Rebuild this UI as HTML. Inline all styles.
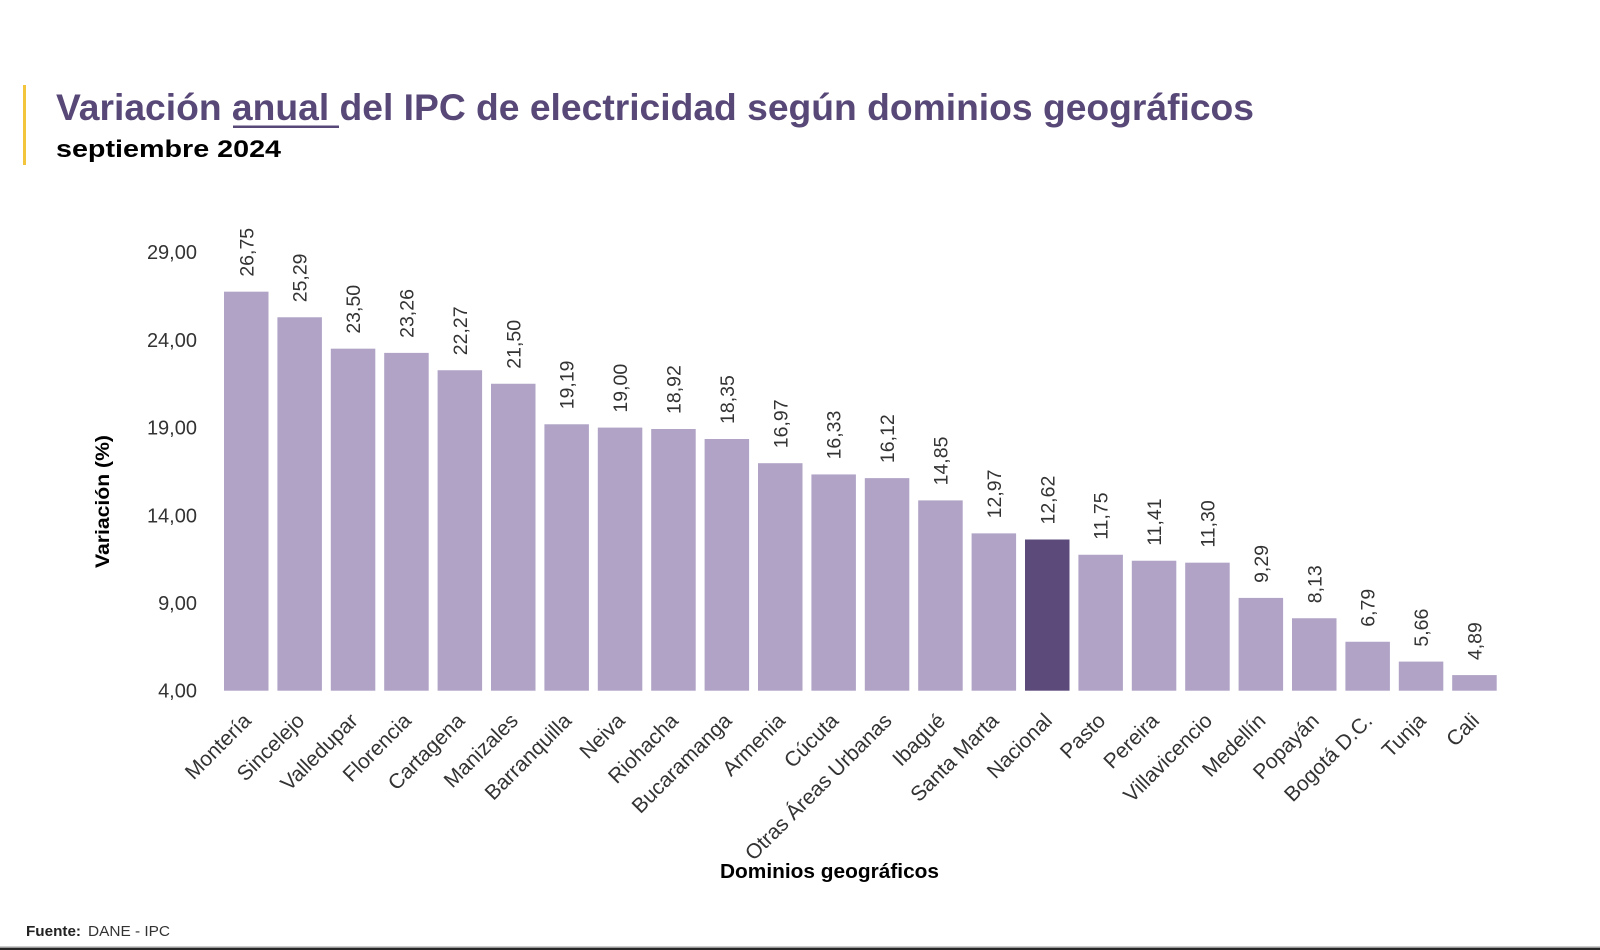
<!DOCTYPE html>
<html>
<head>
<meta charset="utf-8">
<style>
  html,body{margin:0;padding:0;background:#fff;}
  svg{display:block;}
  text{font-family:"Liberation Sans", Arial, sans-serif;}
</style>
</head>
<body>
<svg width="1600" height="950" viewBox="0 0 1600 950" xmlns="http://www.w3.org/2000/svg">
  <rect x="0" y="0" width="1600" height="950" fill="#ffffff"/>

  <!-- Title block -->
  <rect x="23" y="85" width="3" height="80" fill="#f3c53c"/>
  <text x="56" y="120" font-size="37" font-weight="bold" fill="#584878" textLength="1198" lengthAdjust="spacingAndGlyphs">Variación anual del IPC de electricidad según dominios geográficos</text>
  <rect x="233" y="125.5" width="106" height="2.5" fill="#584878"/>
  <text x="56" y="157" font-size="24" font-weight="bold" fill="#000" textLength="225" lengthAdjust="spacingAndGlyphs">septiembre 2024</text>

  <!-- Y axis title -->
  <text transform="translate(109,501.5) rotate(-90)" text-anchor="middle" font-size="19" font-weight="bold" fill="#000" textLength="133" lengthAdjust="spacingAndGlyphs">Variación (%)</text>

  <!-- Y tick labels -->
  <g font-size="20" fill="#333" text-anchor="end">
    <text x="197" y="259.2">29,00</text>
    <text x="197" y="346.9">24,00</text>
    <text x="197" y="434.6">19,00</text>
    <text x="197" y="522.3">14,00</text>
    <text x="197" y="610.0">9,00</text>
    <text x="197" y="697.7">4,00</text>
  </g>

  <!-- Bars -->
  <g fill="#b0a3c6">
    <rect x="224.0" y="291.66" width="44.5" height="399.04"/>
    <rect x="277.4" y="317.27" width="44.5" height="373.43"/>
    <rect x="330.8" y="348.67" width="44.5" height="342.03"/>
    <rect x="384.2" y="352.88" width="44.5" height="337.82"/>
    <rect x="437.6" y="370.24" width="44.5" height="320.46"/>
    <rect x="491.0" y="383.75" width="44.5" height="306.95"/>
    <rect x="544.4" y="424.27" width="44.5" height="266.43"/>
    <rect x="597.8" y="427.60" width="44.5" height="263.10"/>
    <rect x="651.2" y="429.00" width="44.5" height="261.70"/>
    <rect x="704.6" y="439.00" width="44.5" height="251.70"/>
    <rect x="758.0" y="463.21" width="44.5" height="227.49"/>
    <rect x="811.4" y="474.43" width="44.5" height="216.27"/>
    <rect x="864.8" y="478.12" width="44.5" height="212.58"/>
    <rect x="918.2" y="500.39" width="44.5" height="190.31"/>
    <rect x="971.6" y="533.37" width="44.5" height="157.33"/>
    <rect x="1078.4" y="554.76" width="44.5" height="135.94"/>
    <rect x="1131.8" y="560.73" width="44.5" height="129.97"/>
    <rect x="1185.2" y="562.66" width="44.5" height="128.04"/>
    <rect x="1238.6" y="597.91" width="44.5" height="92.79"/>
    <rect x="1292.0" y="618.26" width="44.5" height="72.44"/>
    <rect x="1345.4" y="641.76" width="44.5" height="48.94"/>
    <rect x="1398.8" y="661.58" width="44.5" height="29.12"/>
    <rect x="1452.2" y="675.09" width="44.5" height="15.61"/>
  </g>
  <rect x="1025.0" y="539.51" width="44.5" height="151.19" fill="#5c4a7b"/>

  <!-- Value labels -->
  <g font-size="19.5" fill="#333" text-anchor="start">
    <text transform="translate(253.25,276.66) rotate(-90)">26,75</text>
    <text transform="translate(306.65,302.27) rotate(-90)">25,29</text>
    <text transform="translate(360.05,333.67) rotate(-90)">23,50</text>
    <text transform="translate(413.45,337.88) rotate(-90)">23,26</text>
    <text transform="translate(466.85,355.24) rotate(-90)">22,27</text>
    <text transform="translate(520.25,368.75) rotate(-90)">21,50</text>
    <text transform="translate(573.65,409.27) rotate(-90)">19,19</text>
    <text transform="translate(627.05,412.60) rotate(-90)">19,00</text>
    <text transform="translate(680.45,414.00) rotate(-90)">18,92</text>
    <text transform="translate(733.85,424.00) rotate(-90)">18,35</text>
    <text transform="translate(787.25,448.21) rotate(-90)">16,97</text>
    <text transform="translate(840.65,459.43) rotate(-90)">16,33</text>
    <text transform="translate(894.05,463.12) rotate(-90)">16,12</text>
    <text transform="translate(947.45,485.39) rotate(-90)">14,85</text>
    <text transform="translate(1000.85,518.37) rotate(-90)">12,97</text>
    <text transform="translate(1054.25,524.51) rotate(-90)">12,62</text>
    <text transform="translate(1107.65,539.76) rotate(-90)">11,75</text>
    <text transform="translate(1161.05,545.73) rotate(-90)">11,41</text>
    <text transform="translate(1214.45,547.66) rotate(-90)">11,30</text>
    <text transform="translate(1267.85,582.91) rotate(-90)">9,29</text>
    <text transform="translate(1321.25,603.26) rotate(-90)">8,13</text>
    <text transform="translate(1374.65,626.76) rotate(-90)">6,79</text>
    <text transform="translate(1428.05,646.58) rotate(-90)">5,66</text>
    <text transform="translate(1481.45,660.09) rotate(-90)">4,89</text>
  </g>

  <!-- X category labels -->
  <g font-size="21" fill="#333" text-anchor="end">
    <text transform="translate(252.25,722) rotate(-45)">Montería</text>
    <text transform="translate(305.65,722) rotate(-45)">Sincelejo</text>
    <text transform="translate(359.05,722) rotate(-45)">Valledupar</text>
    <text transform="translate(412.45,722) rotate(-45)">Florencia</text>
    <text transform="translate(465.85,722) rotate(-45)">Cartagena</text>
    <text transform="translate(519.25,722) rotate(-45)">Manizales</text>
    <text transform="translate(572.65,722) rotate(-45)">Barranquilla</text>
    <text transform="translate(626.05,722) rotate(-45)">Neiva</text>
    <text transform="translate(679.45,722) rotate(-45)">Riohacha</text>
    <text transform="translate(732.85,722) rotate(-45)">Bucaramanga</text>
    <text transform="translate(786.25,722) rotate(-45)">Armenia</text>
    <text transform="translate(839.65,722) rotate(-45)">Cúcuta</text>
    <text transform="translate(893.05,722) rotate(-45)">Otras Áreas Urbanas</text>
    <text transform="translate(946.45,722) rotate(-45)">Ibagué</text>
    <text transform="translate(999.85,722) rotate(-45)">Santa Marta</text>
    <text transform="translate(1053.25,722) rotate(-45)">Nacional</text>
    <text transform="translate(1106.65,722) rotate(-45)">Pasto</text>
    <text transform="translate(1160.05,722) rotate(-45)">Pereira</text>
    <text transform="translate(1213.45,722) rotate(-45)">Villavicencio</text>
    <text transform="translate(1266.85,722) rotate(-45)">Medellín</text>
    <text transform="translate(1320.25,722) rotate(-45)">Popayán</text>
    <text transform="translate(1373.65,722) rotate(-45)">Bogotá D.C.</text>
    <text transform="translate(1427.05,722) rotate(-45)">Tunja</text>
    <text transform="translate(1480.45,722) rotate(-45)">Cali</text>
  </g>

  <!-- X axis title -->
  <text x="720" y="878" font-size="20" font-weight="bold" fill="#000" textLength="219" lengthAdjust="spacingAndGlyphs">Dominios geográficos</text>

  <!-- Source -->
  <text x="26" y="936" font-size="15" font-weight="bold" fill="#222" textLength="55" lengthAdjust="spacingAndGlyphs">Fuente:</text>
  <text x="88" y="936" font-size="15" fill="#333" textLength="82" lengthAdjust="spacingAndGlyphs">DANE - IPC</text>

  <!-- Bottom border -->
  <rect x="0" y="946.5" width="1600" height="1.5" fill="#9a9a9a"/>
  <rect x="0" y="948" width="1600" height="2" fill="#262626"/>
</svg>
</body>
</html>
